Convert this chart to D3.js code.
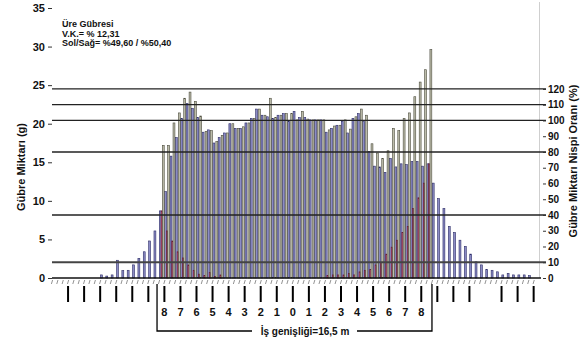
<!DOCTYPE html>
<html><head><meta charset="utf-8">
<script src="https://cdn.jsdelivr.net/npm/d3@7"></script>
<style>
body{margin:0;background:#fff}
svg{display:block}
text{font-family:"Liberation Sans",Arial,sans-serif;font-weight:bold;fill:#111}
</style>
</head><body>
<svg id="chart" width="587" height="342"></svg>
<script>
// Collection trays across the spread, numbered from the tractor centre line
const trays = d3.range(-45, 46);
// Single-pass distribution (g per tray)
const singlePass = [
  0,0,0,0,0,0,0,0,0,
  0.4,0.25,0.4,2.3,0.95,1.0,1.7,2.55,3.4,4.8,6.1,
  8.7,11.2,15.8,18.2,20.7,22.6,22.0,20.8,18.9,19.2,17.5,18.2,18.8,20.0,19.4,19.4,20.1,20.7,21.9,21.1,20.9,20.7,21.1,21.3,20.3,
  21.6,
  20.8,20.8,20.5,20.5,20.5,18.9,19.4,19.8,20.3,18.8,20.7,21.3,20.3,16.4,14.5,14.4,13.7,15.5,14.4,14.8,14.7,15.1,15.1,14.5,14.8,
  12.3,10.3,9.0,6.7,5.9,4.9,4.1,3.1,2.1,1.7,1.1,1.0,0.8,0.4,0.6,0.4,0.4,0.4,0.3,0
];
// Trays inside the working width
const innerTrays = d3.range(-25, 26);
// Folded-back tails from the neighbouring passes (g per tray)
const overlapPass = [
  8.7,6.1,4.8,3.4,2.6,1.7,1.0,0.5,0.3,0.7,0.2,0.4,0,0,0,0,0,0,0,0,0,0,0,0,0,
  0,
  0,0,0,0,0,0.3,0.4,0.4,0.4,0.6,0.4,0.8,1.0,1.1,1.7,2.0,3.1,4.0,4.9,5.9,6.7,9.0,10.4,12.3,14.8
];
// Overlapped total (g per tray)
const totalPass = [
  17.2,17.2,20.1,21.4,23.3,24.1,22.9,21.0,19.0,19.1,17.7,18.5,18.8,20.0,19.4,19.6,20.1,20.7,21.9,21.1,23.3,20.8,21.1,21.3,21.3,
  20.5,
  21.6,20.6,20.5,20.5,20.5,19.2,19.7,19.8,20.5,19.3,20.9,21.9,21.1,17.4,16.2,15.5,16.5,19.4,19.1,20.7,21.4,23.5,25.4,27.0,29.6
];

const massTicks = [0, 5, 10, 15, 20, 25, 30, 35];
const relTicks = [0, 10, 20, 30, 40, 50, 60, 70, 80, 90, 100, 110, 120];
const relLines = [10, 40, 80, 100, 110, 120];
const markTrays = [-42,-39,-36,-33,-30,-27,-24,-21,-18,-15,-12,-9,-6,-3,0,3,6,9,12,15,18,21,24,27,30,33,39,42,45];
const metreTrays = d3.range(-24, 25, 3);
const metreLabels = ["8","7","6","5","4","3","2","1","0","1","2","3","4","5","6","7","8"];
const infoLines = ["Üre Gübresi", "V.K.= % 12,31", "Sol/Sağ= %49,60 / %50,40"];
const widthLabel = "İş genişliği=16,5 m";
const leftTitle = "Gübre Miktarı (g)";
const rightTitle = "Gübre Miktarı Nispi Oranı (%)";

const svg = d3.select("#chart");
svg.append("rect").attr("width", 587).attr("height", 342).attr("fill", "#fff");

const x = d3.scaleBand().domain(trays).range([52, 539]).padding(0);
const y = d3.scaleLinear().domain([0, 35]).range([278, 8]);
const yRel = d3.scaleLinear().domain([0, 171.4]).range([278, 8]);

// right frame line
svg.append("line").attr("x1", 539.5).attr("x2", 539.5).attr("y1", 2).attr("y2", 278)
  .attr("stroke", "#cfcfcf").attr("stroke-width", 1);

// bars
const g = svg.append("g");
function drawBars(keys, vals, off, w, fill, stroke) {
  g.selectAll(null).data(keys.map((k, i) => ({k, v: vals[i]})).filter(d => d.v > 0))
    .join("rect")
    .attr("x", d => x(d.k) + off)
    .attr("width", w)
    .attr("y", d => y(d.v))
    .attr("height", d => y(0) - y(d.v))
    .attr("fill", fill)
    .attr("stroke", stroke)
    .attr("stroke-width", 0.6);
}
drawBars(trays, singlePass, 0.3, 1.9, "#8c8cc6", "#2c2c66");
drawBars(innerTrays, overlapPass, 2.0, 1.5, "#b05070", "#661830");
drawBars(innerTrays, totalPass, 3.3, 1.9, "#bcbcaa", "#4c4c3e");

// relative reference lines
svg.append("g").selectAll("line").data(relLines).join("line")
  .attr("x1", 52).attr("x2", 546)
  .attr("y1", d => yRel(d)).attr("y2", d => yRel(d))
  .attr("stroke", d => d === 10 ? "#444" : "#222")
  .attr("stroke-width", d => d === 10 ? 1.8 : 1.3);

// baseline
svg.append("line").attr("x1", 52).attr("x2", 541).attr("y1", 278).attr("y2", 278)
  .attr("stroke", "#111").attr("stroke-width", 1.3);

// left axis
const ax = svg.append("g").attr("transform", "translate(52,0)")
  .call(d3.axisLeft(y).tickValues(massTicks).tickSize(4).tickPadding(3));
ax.select(".domain").remove();
ax.selectAll("text").style("font-size", "11px");
ax.selectAll("line").attr("stroke", "#333");

// right axis
const ar = svg.append("g").attr("transform", "translate(543,0)")
  .call(d3.axisRight(yRel).tickValues(relTicks).tickSize(3).tickPadding(2));
ar.select(".domain").remove();
ar.selectAll("text").style("font-size", "10px");
ar.selectAll("line").attr("stroke", "#333");

// axis titles
svg.append("text").attr("transform", "translate(25,167) rotate(-90)")
  .attr("text-anchor", "middle").style("font-size", "11px").text(leftTitle);
svg.append("text").attr("transform", "translate(577,161) rotate(-90)")
  .attr("text-anchor", "middle").style("font-size", "11px").text(rightTitle);

// small tray marks under the baseline
svg.append("g").selectAll("line").data(trays).join("line")
  .attr("x1", d => x(d) + 0.6).attr("x2", d => x(d) - 0.6)
  .attr("y1", 280).attr("y2", 284)
  .attr("stroke", "#777").attr("stroke-width", 0.8);

// metre marks
svg.append("g").selectAll("line").data(markTrays).join("line")
  .attr("x1", d => x(d)).attr("x2", d => x(d))
  .attr("y1", 286).attr("y2", 302)
  .attr("stroke", "#000").attr("stroke-width", 2);
svg.append("g").selectAll("text").data(metreTrays).join("text")
  .attr("x", d => x(d)).attr("y", 316)
  .attr("text-anchor", "middle").style("font-size", "11px")
  .text((d, i) => metreLabels[i]);

// working width bracket
const bl = x(-25) - 2, br = x(26);
svg.append("path")
  .attr("d", `M${bl},284V331H252M357,331H${br}V284`)
  .attr("fill", "none").attr("stroke", "#000").attr("stroke-width", 1.3);
svg.append("text").attr("x", 305).attr("y", 335).attr("text-anchor", "middle")
  .style("font-size", "10px").text(widthLabel);

// info block
svg.append("g").selectAll("text").data(infoLines).join("text")
  .attr("x", 62).attr("y", (d, i) => 27 + i * 9.5)
  .style("font-size", "9px").text(d => d);
</script>
</body></html>
